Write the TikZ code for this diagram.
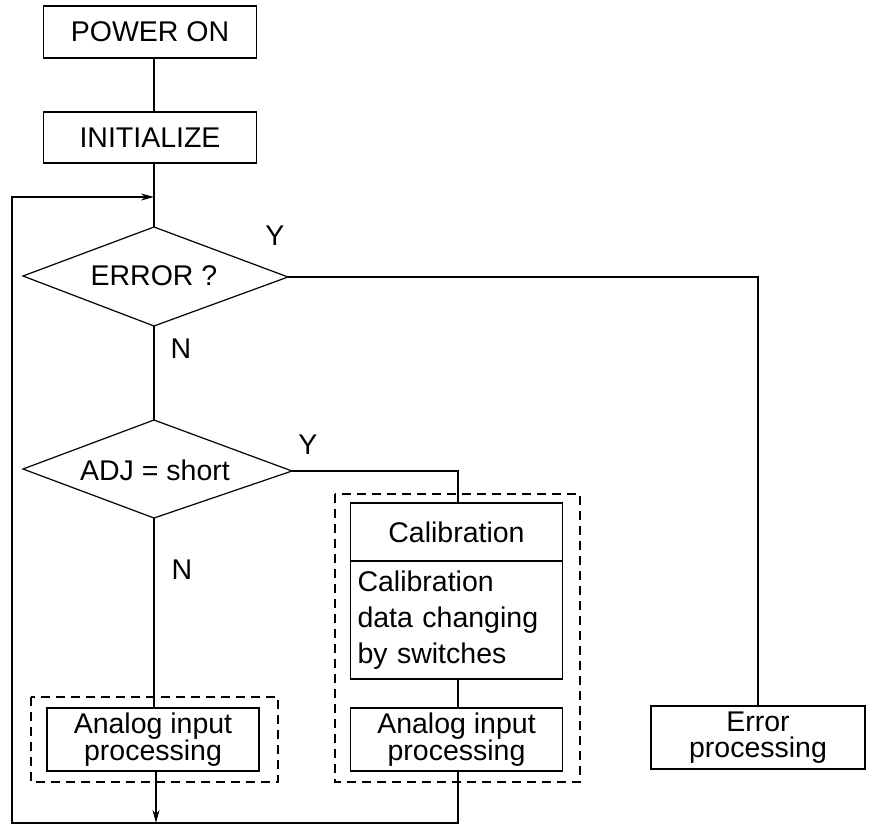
\documentclass[tikz,border=0pt]{standalone}
\usepackage{fontspec}
\setmainfont{Liberation Sans}
\usetikzlibrary{arrows.meta}
\begin{document}
\begin{tikzpicture}[x=1pt,y=-1pt,
  every node/.style={font=\fontsize{28.5}{26}\selectfont},
  box/.style={draw,line width=1.2pt,inner sep=0pt,align=center},
  grp/.style={draw,line width=1.2pt,dash pattern=on 9pt off 6pt},
  ln/.style={line width=1.2pt},
  dia/.style={line width=1.2pt,line join=miter},
  tip/.style={-{Stealth[length=13pt,width=7pt]}},
  lab/.style={inner sep=0pt}]
\useasboundingbox (0,0) rectangle (884,825);
% dashed groups
\draw[grp] (31,697) rectangle (278,782);
\draw[grp] (335,494) rectangle (580,782);
% boxes
\node[box,minimum width=213pt,minimum height=52pt] (pow) at (150,32) {POWER ON};
\node[box,minimum width=213pt,minimum height=51pt] (init) at (150,137.5) {INITIALIZE};
\node[box,minimum width=212pt,minimum height=58pt] (calh) at (456.5,532) {Calibration};
\node[box,minimum width=212pt,minimum height=118pt,text width=198pt,inner xsep=7pt,align=left,
  font=\fontsize{28.5}{36}\selectfont] (calb) at (456.5,620) {Calibration\\data changing\\by switches};
\node[box,minimum width=212pt,minimum height=63pt] (a1) at (153,739.5) {Analog input\\processing};
\node[box,minimum width=212pt,minimum height=63pt] (a2) at (456.5,739.5) {Analog input\\processing};
\node[box,minimum width=214pt,minimum height=63pt] (ep) at (758,737.5) {Error\\processing};
% decisions
\node (err) at (154,276) {ERROR ?};
\coordinate (errN) at (154,227);
\coordinate (errS) at (154,326);
\coordinate (errW) at (23,276);
\coordinate (errE) at (288,277);
\draw[dia] (errN) -- (errE) -- (errS) -- (errW) -- cycle;
\node (adj) at (155,470) {ADJ = short};
\coordinate (adjN) at (154,420);
\coordinate (adjS) at (154,518);
\coordinate (adjW) at (23,469);
\coordinate (adjE) at (292,471);
\draw[dia] (adjN) -- (adjE) -- (adjS) -- (adjW) -- cycle;
% labels
\node[lab] (y1) at (275,236) {Y};
\node[lab] (y2) at (308,445) {Y};
\node[lab] (n1) at (181,349) {N};
\node[lab] (n2) at (182,570) {N};
% loop coordinates
\coordinate (bl) at (12,823);
\coordinate (tl) at (12,197);
\coordinate (br) at (458,823);
% connectors
\draw[ln] (pow.south -| errN) -- (init.north -| errN);
\draw[ln] (init.south -| errN) -- (errN);
\draw[ln] (errE) -| (ep.north);
\draw[ln] (errS) -- (adjN);
\draw[ln] (adjE) -| (calh.north -| br);
\draw[ln] (adjS) -- (a1.north -| adjS);
\draw[ln] (calb.south -| br) -- (a2.north -| br);
\draw[ln,tip] (a1.south -| 156,0) -- (bl -| 156,0);
\draw[ln,tip] (a2.south -| br) -- (br) -- (bl) -- (tl) -- (tl -| errN);
\end{tikzpicture}
\end{document}
